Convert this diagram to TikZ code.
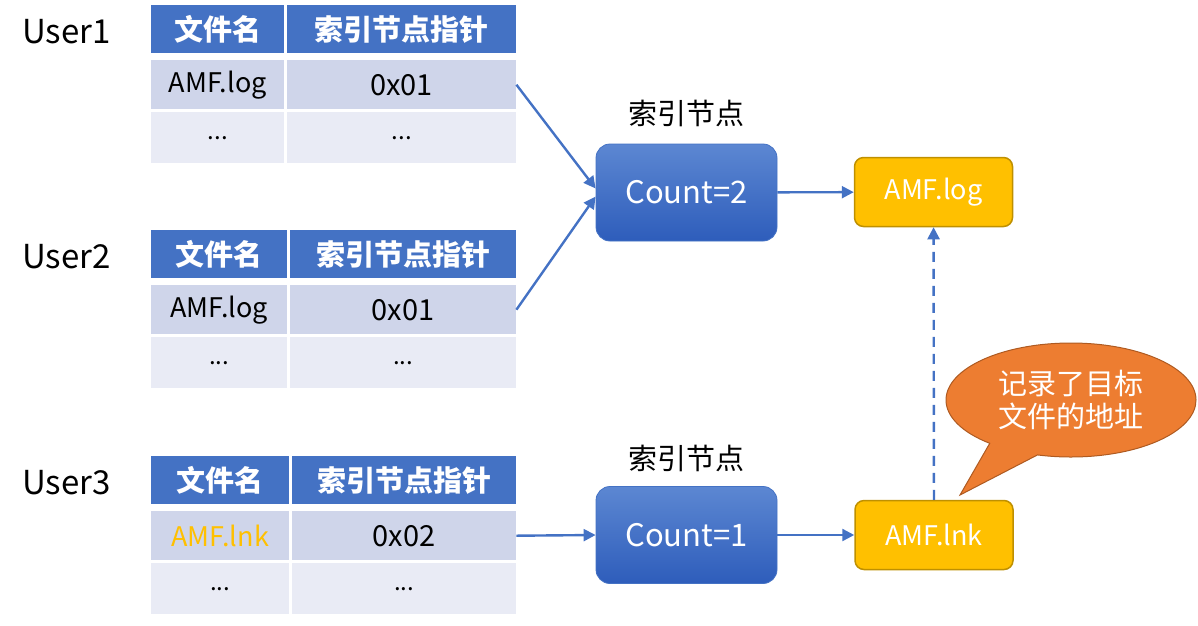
\documentclass[tikz,border=0pt]{standalone}
\usepackage{fontspec}
\setmainfont{Noto Sans CJK SC}
\usetikzlibrary{arrows.meta,shapes.callouts,positioning}

\definecolor{hdrblue}{HTML}{4472C4}
\definecolor{rowblue}{HTML}{CFD5EA}
\definecolor{rowpale}{HTML}{E9EBF5}
\definecolor{boxtop}{HTML}{5C87D2}
\definecolor{boxbot}{HTML}{2E5DBB}
\definecolor{amber}{HTML}{FFC000}
\definecolor{amberline}{HTML}{BF9000}
\definecolor{callfill}{HTML}{ED7D31}
\definecolor{callline}{HTML}{AE5A21}

\tikzset{
  cell/.style={anchor=north west, inner sep=0pt, font=\fontsize{27}{30}\selectfont},
  hcell/.style={cell, fill=hdrblue, text=white, minimum height=48pt, font=\fontsize{29}{32}\selectfont\bfseries},
  rcell/.style={cell, fill=rowblue, minimum height=49pt},
  dcell/.style={cell, fill=rowpale, minimum height=51pt, font=\fontsize{24}{28}\selectfont},
  userlbl/.style={anchor=west, inner sep=0pt, font=\fontsize{33}{36}\selectfont},
  tlabel/.style={inner sep=0pt, font=\fontsize{29}{32}\selectfont},
  inode/.style={rounded corners=14pt, top color=boxtop, bottom color=boxbot, draw=hdrblue, line width=0.8pt,
    minimum width=181pt, minimum height=97pt, text=white, font=\fontsize{31}{34}\selectfont},
  fnode/.style={rounded corners=9pt, fill=amber, draw=amberline, line width=1.5pt,
    minimum width=158pt, minimum height=69pt, text=white, font=\fontsize{27}{30}\selectfont},
  callnote/.style={ellipse callout, callout pointer arc=25, fill=callfill, draw=callline, line width=1pt,
    minimum width=250pt, minimum height=114pt, inner sep=0pt, align=center, text=white,
    font=\fontsize{29}{33}\selectfont},
  link/.style={draw=hdrblue, line width=2.4pt, -{Triangle[length=12pt,width=12pt]}}
}

\begin{document}
\begin{tikzpicture}[x=1pt,y=-1pt]
\useasboundingbox (0,0) rectangle (1198,625);

% three user tables
\foreach \t/\top/\div/\fname/\fcol/\ptr in {1/5/285/AMF.log/black/0x01, 2/230/288/AMF.log/black/0x01, 3/456/290/AMF.lnk/amber/0x02}{
  \node[userlbl] (u\t) at (22,\top+27) {User\t};
  \node[hcell, minimum width={(\div-152)*1pt}] (t\t-h1) at (151,\top) {文件名};
  \node[hcell, minimum width={(514-\div)*1pt}] (t\t-h2) at (\div+2,\top) {索引节点指针};
  \node[rcell, minimum width={(\div-152)*1pt}] (t\t-name) at (151,\top+55) {\textcolor{\fcol}{\fname}};
  \node[rcell, minimum width={(514-\div)*1pt}, font=\fontsize{29}{32}\selectfont] (t\t-ptr) at (\div+2,\top+55) {\ptr};
  \node[dcell, minimum width={(\div-152)*1pt}] (t\t-n3) at (151,\top+107) {...};
  \node[dcell, minimum width={(514-\div)*1pt}] (t\t-p3) at (\div+2,\top+107) {...};
}

% index nodes
\node[inode] (cnt2) at (686.5,192.5) {Count=2};
\node[inode] (cnt1) at (686.5,535) {Count=1};
\node[tlabel] (lbl2) at (686,113) {索引节点};
\node[tlabel] (lbl1) at (686,458) {索引节点};

% files
\node[fnode] (log) at (933.5,192) {AMF.log};
\node[fnode] (lnk) at (934,535) {AMF.lnk};
\node[callnote, callout absolute pointer={(960,495)}] (note) at (1071,400) {记录了目标\\文件的地址};

\draw[link] (t1-ptr.east) -- ([yshift=4pt]cnt2.west);
\draw[link] (t2-ptr.east) -- ([yshift=-4pt]cnt2.west);
\draw[link] (t3-ptr.east) -- (cnt1.west);
\draw[link] (cnt2) -- (log);
\draw[link] (cnt1) -- (lnk);
\draw[link, dash pattern=on 10pt off 7pt] (lnk) -- (log);
\end{tikzpicture}
\end{document}
